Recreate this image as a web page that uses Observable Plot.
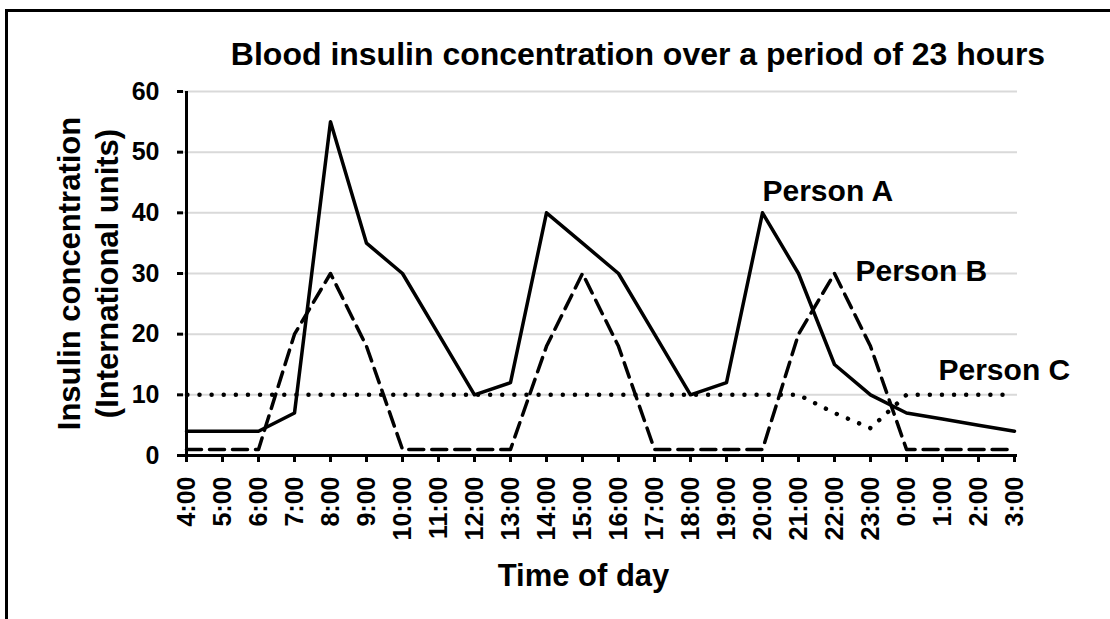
<!DOCTYPE html>
<html>
<head>
<meta charset="utf-8">
<script src="https://cdn.jsdelivr.net/npm/d3@7"></script>
<script src="https://cdn.jsdelivr.net/npm/@observablehq/plot@0.6"></script>
<style>
  html, body { margin: 0; padding: 0; background: #fff; }
  body { width: 1110px; height: 619px; position: relative; overflow: hidden; font-family: "Liberation Sans", Arial, sans-serif; }
  #frame { position: absolute; left: 5px; top: 9px; width: 2000px; height: 2000px; border: 3px solid #000; }
  #title { position: absolute; top: 38px; left: 638px; transform: translateX(-50%); white-space: nowrap;
           font-size: 32px; font-weight: bold; line-height: 1; color: #000; }
  #chart { position: absolute; left: 0; top: 0; }
</style>
</head>
<body>
<div id="frame"></div>
<div id="chart"></div>
<div id="title">Blood insulin concentration over a period of 23 hours</div>
<script>
const hours = ["4:00","5:00","6:00","7:00","8:00","9:00","10:00","11:00","12:00","13:00","14:00","15:00",
               "16:00","17:00","18:00","19:00","20:00","21:00","22:00","23:00","0:00","1:00","2:00","3:00"];
const personA = [4,4,4,7,55,35,30,20,10,12,40,35,30,20,10,12,40,30,15,10,7,6,5,4];
const personB = [1,1,1,20,30,18,1,1,1,1,18,30,18,1,1,1,1,20,30,18,1,1,1,1];
const personC = [10,10,10,10,10,10,10,10,10,10,10,10,10,10,10,10,10,10,7,4.5,10,10,10,10];
const yTicks = [0,10,20,30,40,50,60];
const seriesNames = ["Person A","Person B","Person C"];
const labelHours = ["20:00","22:00","0:00"];
const labelValues = [42,28.8,12.4];
const yTitle = ["Insulin concentration","(International units)"];
const xTitle = "Time of day";

const rows = s => hours.map((h, i) => ({hour: h, value: s[i]}));
const font = "Liberation Sans, Arial, sans-serif";

const chart = Plot.plot({
  width: 1110,
  height: 619,
  marginTop: 91,
  marginBottom: 164,
  marginLeft: 183,
  marginRight: 93,
  style: {fontFamily: font, fontSize: "25px", fontWeight: "bold", color: "#000", background: "transparent"},
  x: {type: "point", domain: hours, padding: 0},
  y: {domain: [0, 60]},
  marks: [
    Plot.gridY(yTicks, {stroke: "#d9d9d9", strokeOpacity: 1, strokeWidth: 2}),
    Plot.axisY(yTicks, {tickSize: 6, tickPadding: 18, strokeWidth: 3, label: null, fontSize: 25}),
    Plot.axisX(hours, {tickSize: 7, tickPadding: 14, tickRotate: -90, strokeWidth: 3, label: null, fontSize: 25}),
    Plot.ruleY([0], {stroke: "#000", strokeWidth: 3}),
    Plot.ruleX([hours[0]], {y1: 0, y2: 60, stroke: "#000", strokeWidth: 3}),
    Plot.line(rows(personC), {x: "hour", y: "value", stroke: "#000", strokeWidth: 4.5,
      strokeDasharray: "0.01,12.1", strokeLinecap: "round", strokeDashoffset: -13}),
    Plot.line(rows(personB), {x: "hour", y: "value", stroke: "#000", strokeWidth: 3.5,
      strokeDasharray: "15,8"}),
    Plot.line(rows(personA), {x: "hour", y: "value", stroke: "#000", strokeWidth: 3.5}),
    Plot.text([seriesNames[0]], {x: [labelHours[0]], y: [labelValues[0]], text: d => d, textAnchor: "start", lineAnchor: "bottom", fontSize: 30, fontWeight: "bold"}),
    Plot.text([seriesNames[1]], {x: [labelHours[1]], y: [labelValues[1]], text: d => d, textAnchor: "start", lineAnchor: "bottom", dx: 21, fontSize: 30, fontWeight: "bold"}),
    Plot.text([seriesNames[2]], {x: [labelHours[2]], y: [labelValues[2]], text: d => d, textAnchor: "start", lineAnchor: "bottom", dx: 32, fontSize: 30, fontWeight: "bold"}),
    Plot.text([yTitle[0]], {frameAnchor: "left", text: d => d, rotate: -90, textAnchor: "middle", lineAnchor: "middle", dx: -113, fontSize: 31, fontWeight: "bold"}),
    Plot.text([yTitle[1]], {frameAnchor: "left", text: d => d, rotate: -90, textAnchor: "middle", lineAnchor: "middle", dx: -75, fontSize: 31, fontWeight: "bold"}),
    Plot.text([xTitle], {frameAnchor: "bottom", text: d => d, lineAnchor: "bottom", dy: 130, dx: -17, fontSize: 31, fontWeight: "bold"})
  ]
});
document.getElementById("chart").appendChild(chart);
</script>
</body>
</html>
